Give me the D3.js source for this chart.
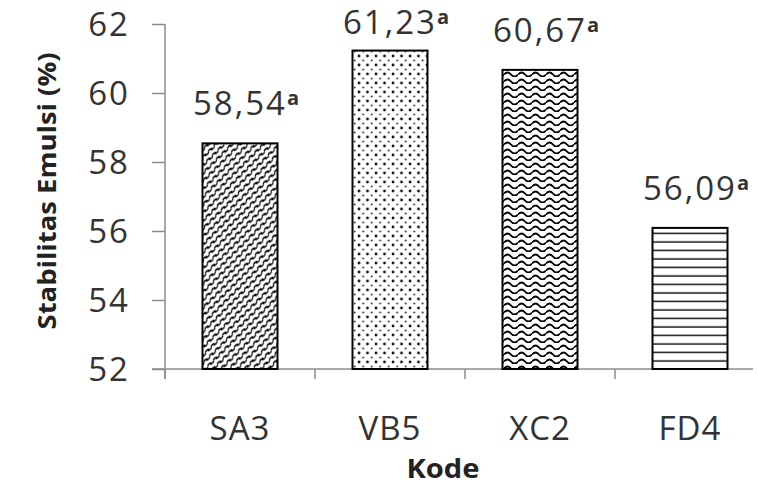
<!DOCTYPE html>
<html><head><meta charset="utf-8">
<script src="https://cdn.jsdelivr.net/npm/d3@7"></script>
<style>body{margin:0;background:#fff}svg{display:block}</style>
</head><body>
<script>
const categories = ["SA3", "VB5", "XC2", "FD4"];
const values = [58.54, 61.23, 60.67, 56.09];
const valueLabels = ["58,54", "61,23", "60,67", "56,09"];
const letters = ["a", "a", "a", "a"];
const yTicks = [52, 54, 56, 58, 60, 62];
const patterns = ["pSA", "pVB", "pXC", "pFD"];

const W = 758, H = 492;
const svg = d3.select("body").append("svg").attr("width", W).attr("height", H);
const defs = svg.append("defs");

// SA3: diagonal wavy lines with dots
const p1 = defs.append("pattern").attr("id", "pSA").attr("patternUnits", "userSpaceOnUse")
  .attr("width", 8).attr("height", 5.6).attr("patternTransform", "rotate(-45)");
p1.append("path").attr("d", "M0,2.8 Q2,0.8 4,2.8 T8,2.8").attr("fill", "none").attr("stroke", "#000").attr("stroke-width", 1.3);
p1.append("circle").attr("cx", 4).attr("cy", 2.8).attr("r", 1.4).attr("fill", "#000");

// VB5: dots
const p2 = defs.append("pattern").attr("id", "pVB").attr("patternUnits", "userSpaceOnUse")
  .attr("width", 8.5).attr("height", 9);
p2.append("circle").attr("cx", 2).attr("cy", 2).attr("r", 1.4).attr("fill", "#111");
p2.append("circle").attr("cx", 6.2).attr("cy", 6.5).attr("r", 1.0).attr("fill", "#333");

// XC2: horizontal waves
const p3 = defs.append("pattern").attr("id", "pXC").attr("patternUnits", "userSpaceOnUse")
  .attr("width", 14).attr("height", 7);
p3.append("path").attr("d", "M0,4.5 Q3.5,0.5 7,4.5 T14,4.5").attr("fill", "none").attr("stroke", "#000").attr("stroke-width", 1.8);

// FD4: horizontal lines
const p4 = defs.append("pattern").attr("id", "pFD").attr("patternUnits", "userSpaceOnUse")
  .attr("width", 10).attr("height", 8.5);
p4.append("line").attr("x1", 0).attr("x2", 10).attr("y1", 4).attr("y2", 4).attr("stroke", "#111").attr("stroke-width", 1.5);

const x = d3.scaleBand().domain(categories).range([165, 765]).paddingInner(0.5).paddingOuter(0.25);
const y = d3.scaleLinear().domain([52, 62]).range([369, 24]);

const axisColor = "#8c8c8c";
const textColor = "#333";
const font = "'Open Sans', sans-serif";

// Y axis
const yAxis = svg.append("g").attr("transform", "translate(165,0)")
  .call(d3.axisLeft(y).tickValues(yTicks).tickSize(13).tickPadding(22).tickFormat(d3.format("d")));
yAxis.select(".domain").remove();
yAxis.append("line").attr("x1", 0).attr("x2", 0).attr("y1", y(62)).attr("y2", 379).attr("stroke", axisColor).attr("stroke-width", 1.5);
yAxis.selectAll(".tick line").attr("stroke", axisColor).attr("stroke-width", 1.5);
yAxis.selectAll(".tick text").attr("font-family", font).attr("font-size", 33).attr("letter-spacing", 2)
  .attr("fill", textColor).attr("dy", "0.36em");

// X axis
const xAxis = svg.append("g").attr("transform", "translate(0,369)");
xAxis.append("line").attr("x1", 152).attr("x2", 753).attr("y1", 0).attr("y2", 0).attr("stroke", axisColor).attr("stroke-width", 1.5);
const step = x.step();
const boundaries = categories.map(c => x(c) - (step - x.bandwidth()) / 2).concat([x(categories[3]) + x.bandwidth() + (step - x.bandwidth()) / 2]);
xAxis.selectAll("line.tk").data(boundaries.filter(b => b < 758)).join("line").attr("class", "tk")
  .attr("x1", d => d).attr("x2", d => d).attr("y1", 0).attr("y2", 10).attr("stroke", axisColor).attr("stroke-width", 1.5);
xAxis.selectAll("text.cat").data(categories).join("text").attr("class", "cat")
  .attr("x", d => x(d) + x.bandwidth() / 2).attr("y", 71).attr("text-anchor", "middle")
  .attr("font-family", font).attr("font-size", 33).attr("letter-spacing", 1).attr("fill", textColor).text(d => d);

// Bars
svg.selectAll("rect.bar").data(categories).join("rect").attr("class", "bar")
  .attr("x", d => x(d)).attr("width", x.bandwidth())
  .attr("y", (d, i) => y(values[i])).attr("height", (d, i) => y(52) - y(values[i]))
  .attr("fill", (d, i) => `url(#${patterns[i]})`).attr("stroke", "#000").attr("stroke-width", 2);

// Value labels
const lab = svg.selectAll("text.val").data(categories).join("text").attr("class", "val")
  .attr("x", d => x(d) + x.bandwidth() / 2 + 6).attr("y", (d, i) => Math.max(y(values[i]) - 28, 34))
  .attr("text-anchor", "middle").attr("font-family", font).attr("font-size", 33).attr("fill", textColor);
lab.append("tspan").attr("letter-spacing", 2).text((d, i) => valueLabels[i]);
lab.append("tspan").attr("dy", -10).attr("font-size", 20).attr("font-weight", "bold").text((d, i) => letters[i]);

// Axis titles
svg.append("text").attr("transform", "translate(46,191) rotate(-90)").attr("text-anchor", "middle")
  .attr("dominant-baseline", "central")
  .attr("font-family", font).attr("font-weight", "bold").attr("font-size", 25).attr("fill", "#222")
  .attr("textLength", 277).attr("lengthAdjust", "spacingAndGlyphs")
  .text("Stabilitas Emulsi (%)");
svg.append("text").attr("x", 443).attr("y", 478).attr("text-anchor", "middle")
  .attr("font-family", font).attr("font-weight", "bold").attr("font-size", 27).attr("fill", "#222")
  .attr("textLength", 73).attr("lengthAdjust", "spacingAndGlyphs")
  .text("Kode");
</script>
</body></html>
